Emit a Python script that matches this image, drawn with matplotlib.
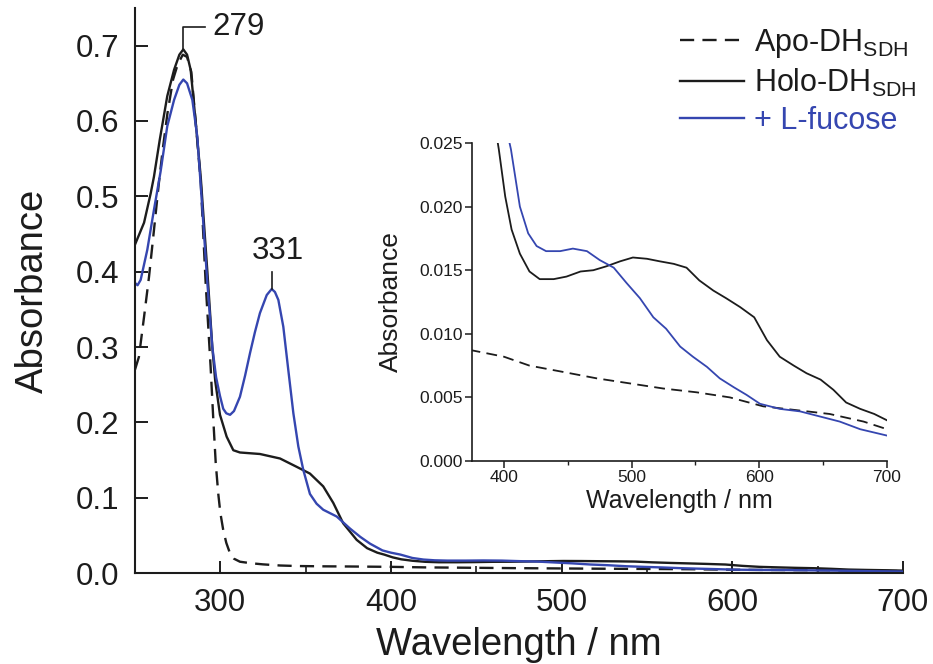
import matplotlib
matplotlib.use('Agg')
import matplotlib.pyplot as plt
from matplotlib.ticker import MultipleLocator, FormatStrFormatter

plt.rcParams['font.family'] = ['Liberation Sans', 'DejaVu Sans']
plt.rcParams['mathtext.fontset'] = 'custom'
plt.rcParams['mathtext.rm'] = 'Liberation Sans'
plt.rcParams['mathtext.it'] = 'Liberation Sans:italic'

# Apo-DH (dashed)
apo_wl = [250, 252.3, 255.3, 258.2, 261.1, 264, 266.4, 269, 272.3, 275, 278, 280.5, 283,
          285.5, 288.5, 291.4, 294.3, 295.9, 297.3, 298.8, 300, 301.7, 303.5, 305.7, 308,
          311.5, 318, 325, 335, 345, 360, 375, 400, 420, 446.5, 472.6, 498.7, 524.8, 551,
          577, 603, 629, 655, 681.7, 700]
apo_abs = [0.27, 0.287, 0.34, 0.393, 0.455, 0.518, 0.565, 0.61, 0.655, 0.675, 0.688, 0.685,
           0.665, 0.60, 0.52, 0.385, 0.274, 0.203, 0.146, 0.105, 0.08, 0.057, 0.04, 0.026,
           0.019, 0.015, 0.013, 0.0115, 0.010, 0.0093, 0.0089, 0.0087, 0.0082, 0.0075,
           0.0070, 0.0065, 0.0061, 0.0057, 0.0054, 0.0050, 0.0043, 0.0040, 0.0037, 0.0031,
           0.0025]

# Holo-DH (solid black)
holo_wl = [250, 255.3, 259.2, 261.1, 264.5, 268.9, 272.9, 276, 278.3, 280.5, 282.6, 285.5,
           288.5, 292.4, 295.3, 297, 299.8, 303.7, 307.6, 311.5, 323.2, 335, 344.7, 352.5,
           360.3, 366.2, 372, 379.9, 386, 392, 396, 401, 406, 412.5, 420, 428, 439, 449,
           460, 470, 480, 491, 501, 512, 522, 533, 543, 553, 564, 574, 585, 596, 606, 616,
           627, 637, 648, 658, 668, 679, 690, 700]
holo_abs = [0.436, 0.465, 0.504, 0.526, 0.575, 0.633, 0.668, 0.688, 0.695, 0.688, 0.668,
            0.600, 0.526, 0.40, 0.30, 0.255, 0.21, 0.181, 0.163, 0.160, 0.158, 0.152,
            0.141, 0.132, 0.115, 0.093, 0.066, 0.044, 0.033, 0.027, 0.0245, 0.0208, 0.0182,
            0.0163, 0.0149, 0.0143, 0.0143, 0.0145, 0.0149, 0.0150, 0.0153, 0.0157, 0.0160,
            0.0159, 0.0157, 0.0155, 0.0152, 0.0142, 0.0134, 0.0128, 0.0121, 0.0113, 0.0095,
            0.0082, 0.0075, 0.0069, 0.0064, 0.0056, 0.0046, 0.0041, 0.0037, 0.0032]

# + L-fucose (blue)
fuc_wl = [250, 251.5, 253.3, 257.2, 261.1, 265, 268.9, 272.9, 276, 278.3, 280.5, 283.6,
          286.5, 288.5, 292.4, 295.3, 297.5, 299.8, 301.7, 303.5, 305.7, 308, 311.5, 314.5,
          317.4, 320.3, 323.2, 327.2, 330.1, 332, 334, 336.9, 339.8, 342.8, 345.7, 348.6,
          352.5, 356.4, 360.3, 368.2, 376, 382, 387.7, 395, 400, 405.5, 412.5, 419, 425.6,
          433, 444, 454, 465, 475, 486, 496, 506.5, 517, 527, 538, 548, 559, 569, 580, 590,
          600.5, 616, 632, 647.5, 663, 679, 700]
fuc_abs = [0.385, 0.382, 0.389, 0.429, 0.482, 0.533, 0.593, 0.628, 0.648, 0.655, 0.650,
           0.628, 0.579, 0.515, 0.385, 0.30, 0.26, 0.235, 0.218, 0.212, 0.21, 0.215, 0.234,
           0.262, 0.292, 0.32, 0.345, 0.369, 0.377, 0.373, 0.3625, 0.327, 0.27, 0.212, 0.168,
           0.137, 0.105, 0.092, 0.084, 0.075, 0.059, 0.048, 0.039, 0.030, 0.027, 0.0245,
           0.0200, 0.0179, 0.0169, 0.0165, 0.0165, 0.0167, 0.0165, 0.0158, 0.0152, 0.0140,
           0.0128, 0.0113, 0.0104, 0.0090, 0.0082, 0.0074, 0.0065, 0.0058, 0.0052, 0.0045,
           0.0041, 0.0039, 0.0035, 0.0031, 0.0025, 0.0020]

labels = ['Apo-DH$_{\\mathrm{SDH}}$', 'Holo-DH$_{\\mathrm{SDH}}$', '+ L-fucose']
peak_labels = ['279', '331']

blue = '#3546b0'
ink = '#1c1c1c'
dash = (0, (6, 3.5))

fig = plt.figure(figsize=(9.33, 6.64), dpi=100)

# main plot
ax = fig.add_axes([0.1447, 0.137, 0.8231, 0.851])
ax.plot(apo_wl, apo_abs, color=ink, lw=1.7, ls=dash, label=labels[0])
ax.plot(holo_wl, holo_abs, color=ink, lw=1.7, label=labels[1])
ax.plot(fuc_wl, fuc_abs, color=blue, lw=1.7, label=labels[2])
ax.set_xlim(250, 700)
ax.set_ylim(0, 0.75)
ax.spines[['top', 'right']].set_visible(False)
for s in ['left', 'bottom']:
    ax.spines[s].set_linewidth(1.5)
    ax.spines[s].set_color(ink)
ax.xaxis.set_major_locator(MultipleLocator(100))
ax.xaxis.set_minor_locator(MultipleLocator(50))
ax.yaxis.set_major_locator(MultipleLocator(0.1))
ax.yaxis.set_major_formatter(FormatStrFormatter('%.1f'))
ax.tick_params(which='major', direction='in', length=9, width=1.4, color=ink,
               labelsize=22.5, labelcolor=ink, pad=11)
ax.tick_params(which='minor', direction='in', length=5, width=1.2, color=ink)
ax.set_xlabel('Wavelength / nm', fontsize=27.5, color=ink, labelpad=6)
ax.set_ylabel('Absorbance', fontsize=27.5, color=ink, labelpad=18)

# peak markers
i279 = holo_abs.index(max(holo_abs))
x279, y279 = holo_wl[i279], holo_abs[i279]
ax.plot([x279, x279, x279 + 13], [y279, y279 + 0.03, y279 + 0.03], color=ink, lw=1.2)
ax.text(x279 + 17, y279 + 0.03, peak_labels[0], fontsize=22.5, color=ink,
        ha='left', va='center')
i331 = fuc_abs.index(max(fuc_abs[20:40]))
x331, y331 = fuc_wl[i331], fuc_abs[i331]
ax.plot([x331, x331], [y331, y331 + 0.022], color=ink, lw=1.2)
ax.text(x331 + 3.5, y331 + 0.03, peak_labels[1], fontsize=22.5, color=ink,
        ha='center', va='bottom')

leg = ax.legend(loc='upper left', bbox_to_anchor=(680 / 933, 1 - 27 / 664),
                bbox_transform=fig.transFigure, frameon=False, fontsize=22,
                handlelength=2.1, handletextpad=0.33, labelspacing=0.22,
                borderpad=0, borderaxespad=0, labelcolor='linecolor')

# inset
ax2 = fig.add_axes([0.5059, 0.3057, 0.4448, 0.4789])
ax2.patch.set_visible(False)
ax2.plot(apo_wl, apo_abs, color=ink, lw=1.3, ls=dash)
ax2.plot(holo_wl, holo_abs, color=ink, lw=1.3)
ax2.plot(fuc_wl, fuc_abs, color=blue, lw=1.3)
ax2.set_xlim(375, 700)
ax2.set_ylim(0, 0.025)
ax2.spines[['top', 'right']].set_visible(False)
for s in ['left', 'bottom']:
    ax2.spines[s].set_linewidth(1.2)
    ax2.spines[s].set_color(ink)
ax2.xaxis.set_major_locator(MultipleLocator(100))
ax2.xaxis.set_minor_locator(MultipleLocator(50))
ax2.yaxis.set_major_locator(MultipleLocator(0.005))
ax2.yaxis.set_major_formatter(FormatStrFormatter('%.3f'))
ax2.tick_params(which='major', direction='out', length=5, width=1.1, color=ink,
                labelsize=12.5, labelcolor=ink, pad=1.5)
ax2.tick_params(which='minor', direction='out', length=3, width=1.0, color=ink)
ax2.set_xlabel('Wavelength / nm', fontsize=18, color=ink, labelpad=3)
ax2.set_ylabel('Absorbance', fontsize=19, color=ink, labelpad=12)

fig.savefig('out.png', dpi=100)
